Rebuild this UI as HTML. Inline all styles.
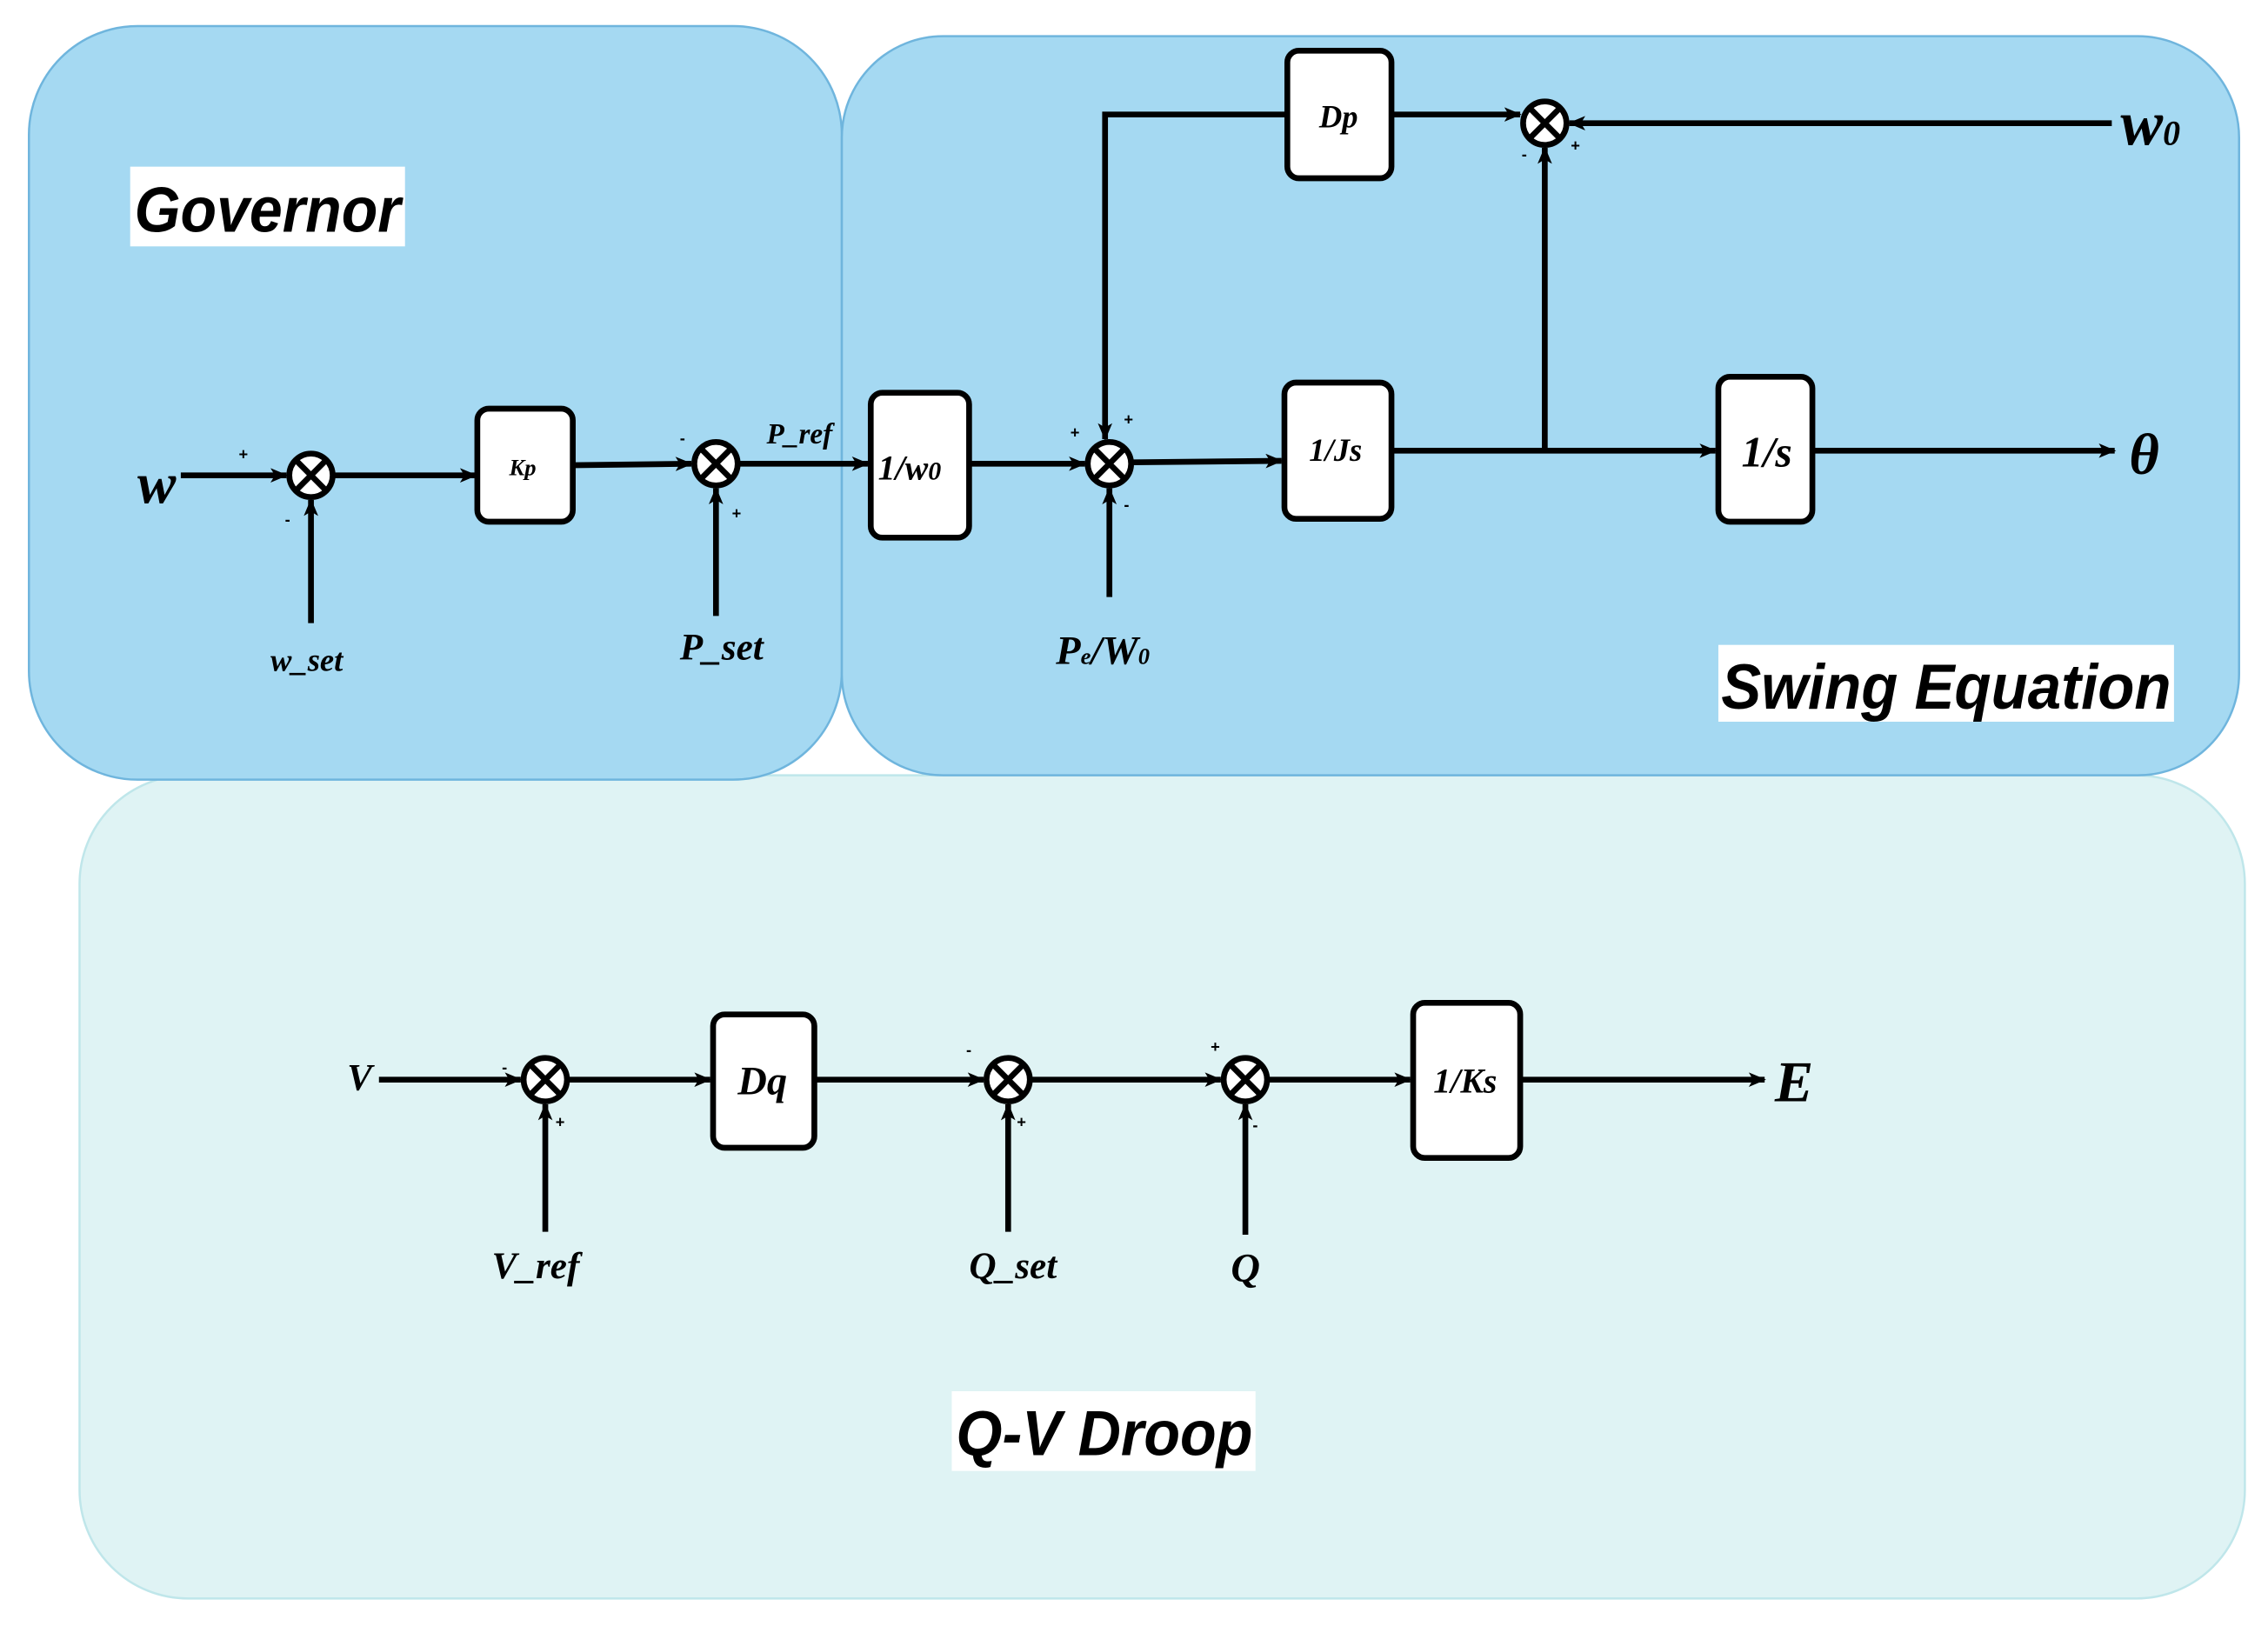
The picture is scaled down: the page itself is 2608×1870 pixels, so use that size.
<!DOCTYPE html>
<html><head><meta charset="utf-8"><style>
html,body{margin:0;padding:0;background:#fff;}
svg{display:block;}
.t{font-family:"Liberation Serif",serif;font-style:italic;font-weight:bold;fill:#000;}
.h{font-family:"Liberation Sans",sans-serif;font-style:italic;font-weight:bold;fill:#000;}
.s{font-family:"Liberation Sans",sans-serif;font-weight:bold;fill:#000;font-size:11px;}
</style></head><body>
<svg width="2608" height="1870" viewBox="0 0 1568 1122" preserveAspectRatio="none" xmlns="http://www.w3.org/2000/svg">
<defs>
<marker id="a" markerWidth="12" markerHeight="10" refX="11" refY="5" orient="auto" markerUnits="userSpaceOnUse">
<path d="M0,0 L12,5 L0,10 L3,5 z" fill="#000"/></marker>
<g id="sj"><circle r="15" fill="#fff" stroke="#000" stroke-width="4"/><path d="M-10,-10 L10,10 M10,-10 L-10,10" stroke="#000" stroke-width="4"/></g>
</defs>
<rect x="55" y="535" width="1497" height="568" rx="75" fill="#dff3f4" stroke="#bfe6ea" stroke-width="1.5"/>
<rect x="20" y="18" width="562" height="520" rx="75" fill="#a5d9f2" stroke="#6fb5dd" stroke-width="1.5"/>
<rect x="582" y="25" width="966" height="510" rx="70" fill="#a5d9f2" stroke="#6fb5dd" stroke-width="1.5"/>

<rect x="90" y="115" width="190" height="55" fill="#fff"/>
<text x="93" y="160" class="h" font-size="44" textLength="184" lengthAdjust="spacingAndGlyphs">Governor</text>
<rect x="1188" y="445" width="315" height="53" fill="#fff"/>
<text x="1190" y="489" class="h" font-size="44" textLength="311" lengthAdjust="spacingAndGlyphs">Swing Equation</text>
<rect x="658" y="960" width="210" height="55" fill="#fff"/>
<text x="661" y="1004" class="h" font-size="44" textLength="205" lengthAdjust="spacingAndGlyphs">Q-V Droop</text>

<g stroke="#000" stroke-width="4" fill="none">
<line x1="125" y1="328" x2="198" y2="328" marker-end="url(#a)"/>
<line x1="215" y1="430" x2="215" y2="345" marker-end="url(#a)"/>
<line x1="231" y1="328" x2="329" y2="328" marker-end="url(#a)"/>
<line x1="397" y1="321" x2="478" y2="320" marker-end="url(#a)"/>
<line x1="495" y1="425" x2="495" y2="337" marker-end="url(#a)"/>
<line x1="511" y1="320" x2="600" y2="320" marker-end="url(#a)"/>
<line x1="670" y1="320" x2="750" y2="320" marker-end="url(#a)"/>
<line x1="767" y1="412" x2="767" y2="337" marker-end="url(#a)"/>
<line x1="783" y1="319" x2="886" y2="318" marker-end="url(#a)"/>
<line x1="962" y1="311" x2="1186" y2="311" marker-end="url(#a)"/>
<line x1="1254" y1="311" x2="1462" y2="311" marker-end="url(#a)"/>
<polyline points="890,79 764,79 764,303" marker-end="url(#a)"/>
<line x1="962" y1="79" x2="1051" y2="79" marker-end="url(#a)"/>
<line x1="1460" y1="85" x2="1085" y2="85" marker-end="url(#a)"/>
<line x1="1068" y1="311" x2="1068" y2="102" marker-end="url(#a)"/>
<line x1="262" y1="745" x2="360" y2="745" marker-end="url(#a)"/>
<line x1="377" y1="850" x2="377" y2="762" marker-end="url(#a)"/>
<line x1="393" y1="745" x2="491" y2="745" marker-end="url(#a)"/>
<line x1="564" y1="745" x2="680" y2="745" marker-end="url(#a)"/>
<line x1="697" y1="850" x2="697" y2="762" marker-end="url(#a)"/>
<line x1="713" y1="745" x2="844" y2="745" marker-end="url(#a)"/>
<line x1="861" y1="852" x2="861" y2="762" marker-end="url(#a)"/>
<line x1="877" y1="745" x2="975" y2="745" marker-end="url(#a)"/>
<line x1="1052" y1="745" x2="1220" y2="745" marker-end="url(#a)"/>
</g>

<g fill="#fff" stroke="#000" stroke-width="4">
<rect x="330" y="282" width="66" height="78" rx="8"/>
<rect x="602" y="271" width="68" height="100" rx="8"/>
<rect x="888" y="264" width="74" height="94" rx="8"/>
<rect x="890" y="35" width="72" height="88" rx="8"/>
<rect x="1188" y="260" width="65" height="100" rx="8"/>
<rect x="493" y="700" width="70" height="92" rx="8"/>
<rect x="977" y="692" width="74" height="107" rx="8"/>
</g>
<use href="#sj" x="215" y="328"/><use href="#sj" x="495" y="320"/><use href="#sj" x="767" y="320"/>
<use href="#sj" x="1068" y="85"/><use href="#sj" x="377" y="745"/><use href="#sj" x="697" y="745"/><use href="#sj" x="861" y="745"/>

<text x="352" y="328" class="t" font-size="16">Kp</text>
<text x="607" y="331" class="t" font-size="24" font-family="Liberation Mono">1/w<tspan font-size="18">0</tspan></text>
<text x="905" y="318" class="t" font-size="22">1/Js</text>
<text x="912" y="88" class="t" font-size="22">Dp</text>
<text x="1204" y="322" class="t" font-size="30">1/s</text>
<text x="510" y="755" class="t" font-size="28">Dq</text>
<text x="991" y="754" class="t" font-size="24">1/Ks</text>
<text x="95" y="347" class="t" font-size="40">w</text>
<text x="187" y="463" class="t" font-size="22">w_set</text>
<text x="470" y="455" class="t" font-size="26">P_set</text>
<text x="530" y="306" class="t" font-size="20">P_ref</text>
<text x="730" y="458" class="t" font-size="28">P<tspan font-size="16">e</tspan>/W<tspan font-size="16">0</tspan></text>
<text x="1466" y="100" class="t" font-size="44">w<tspan font-size="24">0</tspan></text>
<text x="1472" y="327" class="t" font-size="40">θ</text>
<text x="240" y="752" class="t" font-size="26">V</text>
<text x="340" y="882" class="t" font-size="26">V_ref</text>
<text x="670" y="882" class="t" font-size="26">Q_set</text>
<text x="851" y="884" class="t" font-size="28">Q</text>
<text x="1227" y="760" class="t" font-size="40">E</text>

<text x="165" y="317" class="s">+</text><text x="197" y="362" class="s">-</text>
<text x="470" y="306" class="s">-</text><text x="506" y="358" class="s">+</text>
<text x="740" y="302" class="s">+</text><text x="777" y="293" class="s">+</text><text x="777" y="352" class="s">-</text>
<text x="1052" y="110" class="s">-</text><text x="1086" y="104" class="s">+</text>
<text x="347" y="740" class="s">-</text><text x="384" y="778" class="s">+</text>
<text x="668" y="728" class="s">-</text><text x="703" y="778" class="s">+</text>
<text x="837" y="726" class="s">+</text><text x="866" y="780" class="s">-</text>
</svg>
</body></html>
